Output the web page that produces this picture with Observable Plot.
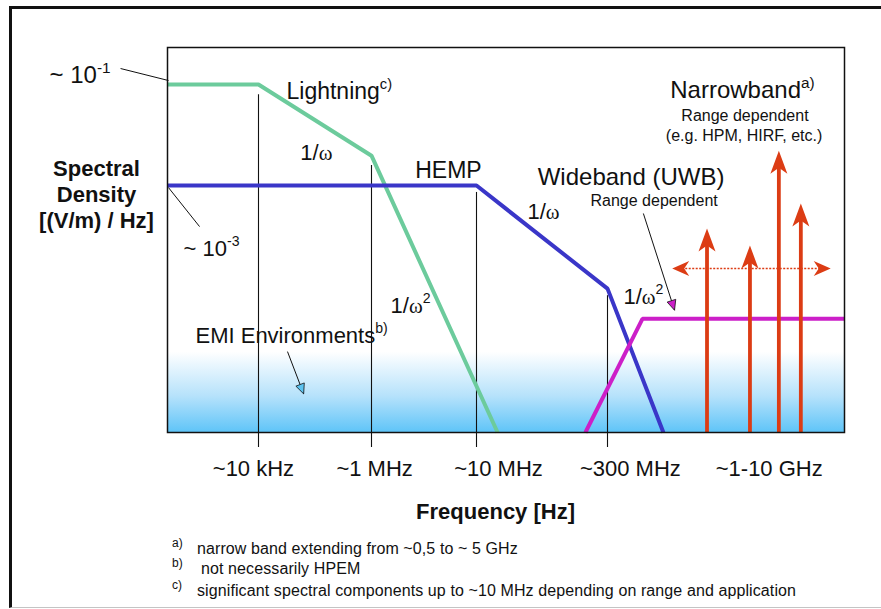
<!DOCTYPE html>
<html>
<head>
<meta charset="utf-8">
<script src="https://cdn.jsdelivr.net/npm/d3@7"></script>
<script src="https://cdn.jsdelivr.net/npm/@observablehq/plot@0.6"></script>
<style>
  html, body { margin: 0; padding: 0; background: #fff; width: 881px; height: 609px; overflow: hidden; }
  #chart { position: absolute; left: 0; top: 0; }
  #outer { position: absolute; left: 9px; top: 6px; width: 900px; height: 598px;
           border-top: 3px solid #111; border-left: 3px solid #111; border-bottom: 1px solid #c4c4c4;
           pointer-events: none; }
  .fn { position: absolute; left: 0; font-family: "Liberation Sans", Arial, sans-serif; color: #111;
        white-space: nowrap; line-height: 17px; }
  .fn .mk { position: absolute; left: 172px; top: -5px; font-size: 12px; }
  .fn .tx { position: absolute; font-size: 16px; letter-spacing: 0.1px; }
</style>
</head>
<body>
<div id="chart"></div>
<div id="notes"></div>
<div id="outer"></div>
<script>
// ---------------- data (schematic values: frequency in Hz, spectral density in (V/m)/Hz) ----------------
const xBreakFreq = [1e3, 1e4, 1e6, 1e7, 3e8, 3.16e10];   // breakpoints of the schematic (non-uniform) frequency axis
const yMin = 1.29e-8, yMax = 0.541;                       // spectral density extent

const lightningFreq = [1e3, 1e4, 1e6, 1.73e7];
const lightningDens = [1e-1, 1e-1, 3.9e-3, 1.29e-8];

const hempFreq = [1e3, 1e7, 3e8, 9.0e8];
const hempDens = [1e-3, 1e-3, 9.1e-6, 1.29e-8];

const uwbFreq = [1.69e8, 5.96e8, 3.16e10];
const uwbDens = [1.29e-8, 2.3e-6, 2.3e-6];

const narrowFreq = [2.12e9, 4.93e9, 8.7e9, 1.34e10];
const narrowPeak = [1.41e-4, 6.5e-5, 4.9e-3, 4.4e-4];
const narrowSpanFreq = [1.07e9, 2.41e10];
const narrowSpanDens = 2.28e-5;

const tickFreq = [1e4, 1e6, 1e7, 3e8];
const tickTop = [0.063, 2.5e-3, 7.3e-4, 6.6e-6];

const tickLabels = ["~10 kHz", "~1 MHz", "~10 MHz", "~300 MHz", "~1-10 GHz"];
const tickLabelFreq = [8.8e3, 1.07e6, 1.77e7, 4.7e8, 7.2e9];

const noteText = ["Lightning^c)", "1/ω", "HEMP", "1/ω", "Wideband (UWB)", "Range dependent",
                  "1/ω^2", "1/ω^2", "Narrowband^a)", "Range dependent", "(e.g. HPM, HIRF, etc.)",
                  "EMI Environments^b)", "~ 10^-3", "~ 10^-1"];
const noteFreq = [3.13e4, 5.5e4, 5.4e6, 3.76e7, 4.9e7, 1.93e8, 4.1e8, 1.52e6, 1.03e9, 4.47e9, 4.39e9, 2.03e3, 1.5e3, 2.37e2];
const noteDens = [7.3e-2, 4.5e-3, 2.0e-3, 3.05e-4, 1.44e-3, 5.0e-4, 6.3e-6, 4.2e-6, 7.6e-2, 2.43e-2, 9.8e-3, 1.07e-6, 5.65e-5, 0.151];

// leader lines / pointers: [from], [to]
const leaderFromFreq = [305, 1026, 6.07e8, 3.26e4];
const leaderFromDens = [0.2075, 9.1e-4, 2.8e-4, 5.16e-7];
const leaderToFreq = [1026, 2.25e3, 1.12e9, 6.3e4];
const leaderToDens = [0.12, 1.54e-4, 3.4e-6, 7.5e-8];

const yTitle = "Spectral\nDensity\n[(V/m) / Hz]";
const xTitle = "Frequency [Hz]";
const xTitleFreq = 1.64e7;

const footMarks = ["a)", "b)", "c)"];
const footTexts = ["narrow band extending from ~0,5 to ~ 5 GHz",
                   "not necessarily HPEM",
                   "significant spectral components up to ~10 MHz depending on range and application"];

// ---------------- layout & styles ----------------
const W = 881, H = 530;
const mL = 167, mR = 37, mT = 47, bottomY = 432;
const xRangePx = [167, 258, 371, 476, 607, 844];
const lx = f => Math.log10(f);
const FONT = "'Liberation Sans', Arial, Helvetica, sans-serif";
const GREEN = "#6ccb9c", BLUE = "#3a36c8", MAGENTA = "#cc1fc8", RED = "#dc3c14";

const noteStyle = [
  {fontSize: 23, textAnchor: "start"}, {fontSize: 22, textAnchor: "start"}, {fontSize: 23, textAnchor: "middle"},
  {fontSize: 22, textAnchor: "start"}, {fontSize: 24, textAnchor: "start"}, {fontSize: 16, textAnchor: "start"},
  {fontSize: 22, textAnchor: "start"}, {fontSize: 22, textAnchor: "start"}, {fontSize: 24, textAnchor: "start"},
  {fontSize: 16, textAnchor: "middle"}, {fontSize: 16, textAnchor: "middle"}, {fontSize: 22, textAnchor: "start"},
  {fontSize: 22, textAnchor: "start"}, {fontSize: 24, textAnchor: "end"}
];

// helper scales (same as the plot's) to orient the small arrow heads
const xs = d3.scaleLinear().domain(xBreakFreq.map(lx)).range(xRangePx);
const ys = d3.scaleLog().domain([yMin, yMax]).range([bottomY, mT]);
function angleOf(i) {
  const dx = xs(lx(leaderToFreq[i])) - xs(lx(leaderFromFreq[i]));
  const dy = ys(leaderToDens[i]) - ys(leaderFromDens[i]);
  return Math.atan2(dx, -dy) * 180 / Math.PI;
}
function head(deg, len, half, notch) {
  const t = deg * Math.PI / 180, c = Math.cos(t), s = Math.sin(t);
  const pts = [[0, 0], [half, len], [0, notch], [-half, len]].map(([px, py]) => [px * c - py * s, px * s + py * c]);
  return {draw(ctx) { ctx.moveTo(pts[0][0], pts[0][1]); for (const p of pts.slice(1)) ctx.lineTo(p[0], p[1]); ctx.closePath(); }};
}

// ---------------- tables ----------------
const series = (F, D) => F.map((f, i) => ({x: lx(f), y: D[i]}));
const lightning = series(lightningFreq, lightningDens);
const hemp = series(hempFreq, hempDens);
const uwb = series(uwbFreq, uwbDens);
const narrow = narrowFreq.map((f, i) => ({x: lx(f), peak: narrowPeak[i], base: yMin}));
const span = [{x1: lx(narrowSpanFreq[0]), x2: lx(narrowSpanFreq[1]), y: narrowSpanDens}];
const ticks = tickFreq.map((f, i) => ({x: lx(f), top: tickTop[i], base: yMin}));
const tickLab = tickLabels.map((t, i) => ({x: lx(tickLabelFreq[i]), t}));
const leaders = leaderFromFreq.map((f, i) => ({x1: lx(f), y1: leaderFromDens[i], x2: lx(leaderToFreq[i]), y2: leaderToDens[i]}));

const noteMarks = noteText.map((t, i) => Plot.text([{x: lx(noteFreq[i]), y: noteDens[i], t}],
  {x: "x", y: "y", text: "t", fill: "#111", ...noteStyle[i]}));

const chart = Plot.plot({
  width: W, height: H,
  marginLeft: mL, marginRight: mR, marginTop: mT, marginBottom: H - bottomY,
  style: {fontFamily: FONT, background: "transparent", overflow: "visible"},
  x: {type: "linear", domain: xBreakFreq.map(lx), range: xRangePx, axis: null},
  y: {type: "log", domain: [yMin, yMax], range: [bottomY, mT], axis: null},
  marks: [
    Plot.frame({fill: "#fff", stroke: "none"}),
    Plot.ruleX(ticks, {x: "x", y1: "top", y2: "base", stroke: "#111", strokeWidth: 1.1, insetBottom: -15}),
    Plot.line(lightning, {x: "x", y: "y", stroke: GREEN, strokeWidth: 4, strokeLinejoin: "miter", strokeLinecap: "butt"}),
    Plot.line(hemp, {x: "x", y: "y", stroke: BLUE, strokeWidth: 4, strokeLinejoin: "miter", strokeLinecap: "butt"}),
    Plot.line(uwb, {x: "x", y: "y", stroke: MAGENTA, strokeWidth: 4, strokeLinejoin: "miter", strokeLinecap: "butt"}),
    Plot.ruleX(narrow, {x: "x", y1: "peak", y2: "base", stroke: RED, strokeWidth: 3.8, insetTop: 10}),
    Plot.ruleY(span, {y: "y", x1: "x1", x2: "x2", stroke: RED, strokeWidth: 1.5, strokeDasharray: "2,1.5", insetLeft: 10, insetRight: 10}),
    Plot.dot(narrow, {x: "x", y: "peak", symbol: head(0, 23, 8.5, 17), fill: RED, stroke: "none"}),
    Plot.dot(span, {x: "x1", y: "y", symbol: head(-90, 17, 7.5, 12), fill: RED, stroke: "none"}),
    Plot.dot(span, {x: "x2", y: "y", symbol: head(90, 17, 7.5, 12), fill: RED, stroke: "none"}),
    Plot.link(leaders, {x1: "x1", y1: "y1", x2: "x2", y2: "y2", stroke: "#111", strokeWidth: 1}),
    Plot.dot([leaders[2]], {x: "x2", y: "y2", symbol: head(angleOf(2), 10, 4.5, 10), fill: MAGENTA, stroke: "#111", strokeWidth: 0.8}),
    Plot.dot([leaders[3]], {x: "x2", y: "y2", symbol: head(angleOf(3), 10, 4.5, 10), fill: "#5cc3f0", stroke: "#111", strokeWidth: 0.8}),
    Plot.frame({stroke: "#111", strokeWidth: 1.5}),
    Plot.text(tickLab, {x: "x", text: "t", frameAnchor: "bottom", lineAnchor: "middle", dy: 36, fontSize: 22, fill: "#111"}),
    Plot.text([xTitle], {x: () => lx(xTitleFreq), text: d => d, frameAnchor: "bottom", lineAnchor: "middle", dy: 79, fontSize: 22, fontWeight: "bold", fill: "#111"}),
    Plot.text([yTitle], {text: d => d, frameAnchor: "left", lineAnchor: "middle", dx: -71, dy: -46.5, fontSize: 22, fontWeight: "bold", lineHeight: 1.2, textAnchor: "middle", fill: "#111"}),
    ...noteMarks
  ]
});

// gradient fill for the EMI environment band
const svg = chart.tagName.toLowerCase() === "svg" ? chart : chart.querySelector("svg");
const defs = d3.select(svg).insert("defs", ":first-child");
const grad = defs.append("linearGradient").attr("id", "emiGrad").attr("x1", 0).attr("y1", 0).attr("x2", 0).attr("y2", 1);
grad.append("stop").attr("offset", 0.79).attr("stop-color", "#ffffff");
grad.append("stop").attr("offset", 0.905).attr("stop-color", "#b6e2fb");
grad.append("stop").attr("offset", 1).attr("stop-color", "#5ec4f8");
const bg = svg.querySelector('[aria-label="frame"]');
const bgRect = bg.tagName.toLowerCase() === "rect" ? bg : bg.querySelector("rect");
bgRect.setAttribute("fill", "url(#emiGrad)");

// superscripts and omega glyphs
d3.select(svg).selectAll("text").each(function() {
  if (this.childElementCount > 0) return;
  const s = this.textContent;
  if (!/[\^ω]/.test(s)) return;
  const [main, sup] = s.split("^");
  this.textContent = "";
  const sel = d3.select(this);
  main.split(/(ω)/).forEach(part => {
    if (!part) return;
    const t = sel.append("tspan").text(part);
    if (part === "ω") t.attr("font-family", "'Liberation Serif', 'Times New Roman', serif").attr("font-size", "0.95em");
  });
  if (sup !== undefined) sel.append("tspan").text(sup).attr("font-size", "0.64em").attr("dy", "-0.68em");
});

document.getElementById("chart").append(chart);

// footnotes
const notes = document.getElementById("notes");
const footTop = [540, 560, 582];
const footLeft = [197, 201, 197];
footMarks.forEach((m, i) => {
  const d = document.createElement("div");
  d.className = "fn";
  d.style.top = footTop[i] + "px";
  d.innerHTML = `<span class="mk">${m}</span><span class="tx" style="left:${footLeft[i]}px">${footTexts[i]}</span>`;
  notes.append(d);
});
</script>
</body>
</html>
